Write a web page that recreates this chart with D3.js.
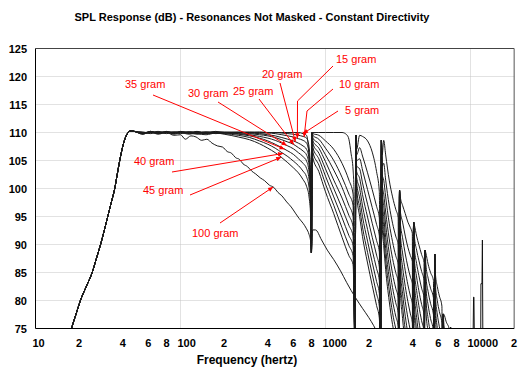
<!DOCTYPE html>
<html><head><meta charset="utf-8">
<script src="https://cdn.jsdelivr.net/npm/d3@7"></script>
<style>
html,body{margin:0;padding:0;background:#fff;}
svg{display:block;}
</style></head><body>
<svg id="chart" width="520" height="378"></svg>
<script>
// ---------------- DATA ----------------
const titleText = "SPL Response (dB) - Resonances Not Masked - Constant Directivity";
const xTitleText = "Frequency (hertz)";
const yTickValues = [75, 80, 85, 90, 95, 100, 105, 110, 115, 120, 125];
const xTickValues = [10, 20, 40, 60, 80, 100, 200, 400, 600, 800, 1000, 2000, 4000, 6000, 8000, 10000, 20000];
const xTickLabels = ["10", "2", "4", "6", "8", "100", "2", "4", "6", "8", "1000", "2", "4", "6", "8", "10000", "2"];
const xGridValues = [100, 1000, 10000];

// shared low-frequency rise (Hz, dB)
const lowEnd = [[16.5,72],[17.7,75],[19,77.5],[20.4,80],[22.4,82.5],[24.6,85],[26.3,87.5],[28.1,90],[29.8,92.5],[31.5,95],[33.3,97.5],[35.2,100],[36.6,102.5],[38.1,105],[39.7,107.2],[41.3,108.8],[43,109.8],[45.5,110.3],[48,110.2]];

const gram5 = [[55,109.9],[62,110.2],[70,110],[80,110.1],[90,110],[100,110.2],[115,109.9],[130,110.1],[150,110],[175,110.2],[200,110],[250,110.1],[300,110],[350,110.1],[400,110],[500,110],[600,110],[650,110],[700,109.8],[740,109.5],[766,106.4],[786,100.3],[800,88.5],
[810,110],[818,110],[900,110],[1000,110],[1140,110],[1300,110],[1400,109.6],[1450,108.8],[1500,106.3],[1550,103.3],[1575,99],[1600,70],
[1620,109.5],[1640,107],[1720,109.5],[1800,109.3],[1950,108.5],[2100,106.5],[2250,103],[2350,99.5],[2400,70],
[2430,108.6],[2460,106],[2520,108.6],[2600,106],[2750,101.5],[2900,98.5],[3050,96.3],[3170,94.8],[3200,70],
[3240,99.7],[3280,98.5],[3400,97],[3550,95.5],[3700,94],[3850,93],[3970,92],[4000,70],
[4050,94],[4100,93.5],[4250,91.5],[4400,90],[4600,88.2],[4780,86.8],[4800,70],
[4860,89],[4920,88.5],[5100,86.5],[5300,85],[5550,83.6],[5600,70],
[5670,88.3],[5740,84.5],[5900,82.5],[6100,80.8],[6350,79],[6400,70],
[6480,77.6],[6560,77.5],[6800,76.2],[7150,74.8],[7200,70],
[7290,75.2],[7380,74],[8000,70]];

const gram10 = [[55,109.8],[62,110.1],[70,109.9],[80,110.2],[90,109.9],[100,110.1],[115,109.8],[130,110.1],[150,109.9],[175,110.1],[200,110],[250,110],[300,110.1],[350,110],[400,110],[450,110],[500,109.9],[550,109.8],[600,109.7],[650,109.5],[700,109.3],[740,109],[770,107.5],[790,102],[800,88.5],
[810,110],[818,109.8],[900,109.5],[1000,108.5],[1140,107],[1300,104.5],[1450,101.5],[1550,99],[1600,70],
[1620,109.5],[1640,106],[1720,107.3],[1800,105.8],[1950,102.8],[2100,99.8],[2250,96.8],[2350,94.8],[2400,70],
[2430,108.6],[2460,104],[2520,104.5],[2600,101.5],[2750,97],[2900,93.8],[3050,91.5],[3170,90],[3200,70],
[3240,99.7],[3280,96],[3400,94],[3550,91.5],[3700,89.5],[3850,88],[3970,87],[4000,70],
[4050,94],[4100,91.5],[4250,89],[4400,87.2],[4600,85.2],[4780,83.6],[4800,70],
[4860,89],[4920,86.5],[5100,84],[5300,82.2],[5550,80.5],[5600,70],
[5670,88.3],[5740,82.5],[5900,80],[6100,78],[6350,76],[6400,70],
[6480,77.6],[6560,75.5],[6800,73.5],[7150,71.5],[7200,70],[7290,75.2],[7380,71],[8000,66]];

const gram15 = [[55,109.7],[62,110.2],[70,109.9],[80,110.1],[90,110],[100,109.9],[115,110],[130,110.2],[150,109.8],[175,110],[200,110.1],[250,110],[300,110],[350,109.9],[400,109.9],[450,109.8],[500,109.6],[550,109.4],[600,109.2],[650,108.9],[700,108.6],[740,108.1],[770,106.5],[790,101],[800,88.5],
[810,110],[818,109.5],[900,108.8],[1000,107.2],[1140,105],[1300,102],[1450,99],[1550,97],[1600,70],
[1620,109.5],[1640,105],[1720,105.3],[1800,103.3],[1950,99.8],[2100,96.6],[2250,93.6],[2350,91.6],[2400,70],
[2430,108.6],[2460,102.5],[2520,101.5],[2600,98.5],[2750,93.8],[2900,90.5],[3050,88],[3170,86.5],[3200,70],
[3240,99.7],[3280,94],[3400,91.2],[3550,88.3],[3700,86],[3850,84.2],[3970,83],[4000,70],
[4050,94],[4100,89.5],[4250,86.6],[4400,84.5],[4600,82.2],[4780,80.5],[4800,70],
[4860,89],[4920,84.5],[5100,81.6],[5300,79.5],[5550,77.5],[5600,70],
[5670,88.3],[5740,80.5],[5900,77.6],[6100,75.3],[6350,73],[6400,70],
[6480,77.6],[6560,73.5],[6800,70.8],[7150,68],[7200,66],[7290,75.2],[7380,68],[8000,62]];

const gram20 = [[55,109.9],[62,110],[70,110.2],[80,109.9],[90,110.1],[100,110],[115,110.1],[130,109.9],[150,110.1],[175,109.9],[200,110],[250,110],[300,109.9],[350,109.8],[400,109.6],[450,109.4],[500,109.1],[550,108.8],[600,108.5],[650,108.1],[700,107.6],[740,107],[770,105.3],[790,100],[800,88.5],
[810,110],[818,109],[900,108],[1000,106],[1140,103.3],[1300,100.2],[1450,97],[1550,95],[1600,70],
[1620,109.5],[1640,104],[1720,103.5],[1800,101],[1950,97.2],[2100,93.8],[2250,90.7],[2350,88.7],[2400,70],
[2430,108.6],[2460,101],[2520,99],[2600,95.8],[2750,91],[2900,87.5],[3050,85],[3170,83.3],[3200,70],
[3240,99.7],[3280,92],[3400,88.5],[3550,85.3],[3700,82.8],[3850,80.8],[3970,79.4],[4000,70],
[4050,94],[4100,87.5],[4250,84.2],[4400,81.8],[4600,79.3],[4780,77.4],[4800,70],
[4860,89],[4920,82.5],[5100,79.2],[5300,76.8],[5550,74.5],[5600,70],
[5670,88.3],[5740,78.5],[5900,75.2],[6100,72.6],[6350,70],[6400,66],[6480,77.6],[6560,71.5],[6800,68],[7200,64]];

const gram25 = [[55,110],[62,109.8],[70,110.1],[80,110],[90,109.8],[100,110.1],[115,110],[130,109.8],[150,110],[175,110.1],[200,109.9],[250,109.9],[300,109.8],[350,109.6],[400,109.4],[450,109.1],[500,108.7],[550,108.3],[600,107.9],[650,107.3],[700,106.7],[740,106],[770,104.2],[790,99],[800,88.5],
[810,110],[818,108.5],[900,107.2],[1000,104.8],[1140,101.5],[1300,98.3],[1450,95.2],[1550,93.2],[1600,70],
[1620,109.5],[1640,103],[1720,101.8],[1800,98.9],[1950,94.9],[2100,91.3],[2250,88.1],[2350,86],[2400,70],
[2430,108.6],[2460,99.5],[2520,97],[2600,93.5],[2750,88.5],[2900,84.8],[3050,82.2],[3170,80.5],[3200,70],
[3240,99.7],[3280,90],[3400,86],[3550,82.5],[3700,79.8],[3850,77.6],[3970,76],[4000,70],
[4050,94],[4100,85.5],[4250,81.8],[4400,79.1],[4600,76.4],[4780,74.4],[4800,70],
[4860,89],[4920,80.5],[5100,76.8],[5300,74.1],[5550,71.5],[5600,68],
[5670,88.3],[5740,76.5],[5900,72.8],[6100,70],[6400,66]];

const gram30 = [[55,109.8],[62,110.1],[70,109.8],[80,110.1],[90,110],[100,109.8],[115,110.1],[130,110],[150,109.8],[175,110],[200,110],[250,109.8],[300,109.6],[350,109.3],[400,109],[450,108.6],[500,108.1],[550,107.6],[600,107.1],[650,106.4],[700,105.7],[740,104.9],[770,103],[790,98],[800,88.5],
[810,110],[818,108],[900,106.3],[1000,103.5],[1140,100],[1300,96.5],[1450,93.4],[1550,91.5],[1600,70],
[1620,109.5],[1640,102],[1720,100],[1800,96.9],[1950,92.7],[2100,89],[2250,85.7],[2350,83.6],[2400,70],
[2430,108.6],[2460,98],[2520,95],[2600,91.3],[2750,86.2],[2900,82.3],[3050,79.6],[3170,77.8],[3200,70],
[3240,99.7],[3280,88],[3400,83.6],[3550,79.8],[3700,76.9],[3850,74.6],[3970,73],[4000,70],
[4050,94],[4100,83.5],[4250,79.4],[4400,76.4],[4600,73.5],[4780,71.5],[4800,68],
[4860,89],[4920,78.5],[5100,74.4],[5300,71.4],[5550,68]];

const gram35 = [[55,110.1],[62,109.9],[70,110],[80,109.8],[90,110.1],[100,110],[115,109.7],[130,110],[150,110.1],[175,109.8],[200,109.9],[250,109.7],[300,109.4],[350,109],[400,108.5],[450,107.9],[500,107.3],[550,106.7],[600,106.1],[650,105.3],[700,104.5],[740,103.6],[770,101.7],[790,97],[800,88.5],
[810,110],[818,107.3],[900,105.3],[1000,102.2],[1140,98.5],[1300,94.8],[1450,91.6],[1550,89.8],[1600,70],
[1620,109.5],[1640,101],[1720,98.3],[1800,95],[1950,90.6],[2100,86.8],[2250,83.4],[2350,81.3],[2400,70],
[2430,108.6],[2460,96.5],[2520,93.2],[2600,89.3],[2750,84],[2900,80],[3050,77.2],[3170,75.4],[3200,70],
[3240,99.7],[3280,86],[3400,81.3],[3550,77.2],[3700,74.1],[3850,71.7],[3970,70],[4000,67],
[4050,94],[4100,81.5],[4250,77],[4400,73.8],[4600,70.6],[4800,67]];

const gram40 = [[55,109.9],[62,110.1],[70,109.7],[80,110],[90,109.9],[100,110.1],[115,109.9],[130,109.7],[150,109.9],[175,109.9],[200,109.8],[250,109.5],[300,109.1],[350,108.5],[400,107.9],[450,107.2],[500,106.4],[550,105.7],[600,104.9],[650,104.1],[700,103.1],[740,102.1],[770,100.2],[790,96],[800,88.5],
[810,110],[818,106.5],[900,104.2],[1000,100.8],[1140,97],[1300,93],[1450,89.8],[1550,88],[1600,70],
[1620,109.5],[1640,100],[1720,96.6],[1800,93.1],[1950,88.6],[2100,84.7],[2250,81.2],[2350,79],[2400,70],
[2430,108.6],[2460,95],[2520,91.5],[2600,87.4],[2750,81.9],[2900,77.8],[3050,75],[3170,73.2],[3200,70],
[3240,99.7],[3280,84],[3400,79],[3550,74.7],[3700,71.4],[4000,67],
[4050,94],[4100,79.5],[4250,74.7],[4400,71.2],[4800,66]];

const gram45 = [[55,109.8],[62,110],[70,109.9],[80,110.1],[90,109.7],[100,110],[115,110.1],[130,109.8],[150,109.6],[175,109.9],[200,109.7],[250,109.2],[300,108.7],[350,108],[400,107.2],[450,106.4],[500,105.5],[550,104.6],[600,103.7],[650,102.8],[700,101.6],[740,100.4],[770,98.5],[790,95],[800,88.5],
[810,110],[818,105.5],[900,103],[1000,99.4],[1140,95.5],[1300,91.3],[1450,88],[1550,86.4],[1600,70],
[1620,109.5],[1640,99],[1720,95],[1800,91.4],[1950,86.7],[2100,82.7],[2250,79.1],[2350,76.9],[2400,70],
[2430,108.6],[2460,93.5],[2520,89.8],[2600,85.5],[2750,79.9],[2900,75.7],[3050,72.9],[3170,71],[3200,68],
[3240,99.7],[3280,82],[3400,76.8],[3550,72.3],[3700,69],[4000,65],
[4050,94],[4100,77.5],[4250,72.4],[4400,69],[4800,64]];

const gram100 = [[55,109.7],[62,110.2],[70,109.8],[80,110],[90,109.5],[100,109.6],[108,108.8],[118,109.4],[128,109.2],[140,108.6],[152,108.8],[165,108.1],[180,107.6],[195,107.4],[210,106.6],[225,106.3],[240,105.5],[255,105.2],[270,104.4],[290,103.9],[310,103.1],[330,102.6],[355,101.9],[380,101.4],[410,100.6],[440,100.2],[470,99.3],[500,98.7],[540,97.6],[580,96.7],[620,95.6],[660,94.6],[700,93.8],[740,92.8],[770,91.8],[790,90.5],[800,88.5],
[815,92.6],[853,92.6],[940,90.8],[1029,89],[1140,87.3],[1269,85.3],[1400,83.2],[1610,80.5],[1800,78.6],[1983,77],[2150,75.5],[2300,74]];

// narrow high-frequency resonance spikes (Hz, dB)
const spike10k = [[10380,70],[10500,80.6],[10560,80.6],[10660,70]];
const spike12k = [[11750,70],[11800,83],[12000,83],[12080,90.8],[12180,70]];

// annotation labels and the frequency each arrow points at
const labelNames = ["5 gram","10 gram","15 gram","20 gram","25 gram","30 gram","35 gram","40 gram","45 gram","100 gram"];
const arrowTargetHz = [700, 712, 640, 620, 605, 540, 522, 510, 495, 435];

// ---------------- LAYOUT ----------------
const series = [
  {name:"5 gram", data: lowEnd.concat(gram5)},
  {name:"10 gram", data: lowEnd.concat(gram10)},
  {name:"15 gram", data: lowEnd.concat(gram15)},
  {name:"20 gram", data: lowEnd.concat(gram20)},
  {name:"25 gram", data: lowEnd.concat(gram25)},
  {name:"30 gram", data: lowEnd.concat(gram30)},
  {name:"35 gram", data: lowEnd.concat(gram35)},
  {name:"40 gram", data: lowEnd.concat(gram40)},
  {name:"45 gram", data: lowEnd.concat(gram45)},
  {name:"100 gram", data: lowEnd.concat(gram100)}
];
const labelLayout = {
  "5 gram":  {tx:345, ty:114, pts:[[338,111]]},
  "10 gram": {tx:339, ty:88,  pts:[[333,89],[307,111]]},
  "15 gram": {tx:336, ty:63,  pts:[[333,66],[297.5,101]]},
  "20 gram": {tx:262, ty:78,  pts:[[280,83]]},
  "25 gram": {tx:233, ty:95,  pts:[[259,99]]},
  "30 gram": {tx:188, ty:97,  pts:[[218,102]]},
  "35 gram": {tx:125, ty:88,  pts:[[153,95]]},
  "40 gram": {tx:134, ty:165, pts:[[172,172]]},
  "45 gram": {tx:143, ty:194, pts:[[190,195]]},
  "100 gram":{tx:192, ty:237, pts:[[220,223]]}
};

const svg = d3.select("#chart");
const font = "'Liberation Sans', Arial, Helvetica, sans-serif";

const x = d3.scaleLog().domain([10, 20000]).range([35.5, 514.15]);
const y = d3.scaleLinear().domain([75, 125]).range([328.5, 48.5]);

const defs = svg.append("defs");
defs.append("clipPath").attr("id","plotclip").append("rect")
  .attr("x", x(10)).attr("y", y(125)).attr("width", x(20000)-x(10)).attr("height", y(75)-y(125));
defs.append("marker").attr("id","arrow")
  .attr("viewBox","0 0 10 10").attr("refX",10).attr("refY",5)
  .attr("markerUnits","userSpaceOnUse").attr("markerWidth",6).attr("markerHeight",5)
  .attr("orient","auto")
  .append("path").attr("d","M0,0.5 L10,5 L0,9.5 Z").attr("fill","#ff0000");

// grid
const grid = svg.append("g");
grid.selectAll("line.h").data(yTickValues.filter(v => v > 75 && v < 125)).enter().append("line")
  .attr("x1", x(10)).attr("x2", x(20000)).attr("y1", d => y(d)).attr("y2", d => y(d))
  .attr("stroke","#c4c4c4").attr("stroke-width",1).attr("stroke-dasharray","1,1");
grid.selectAll("line.v").data(xGridValues).enter().append("line")
  .attr("x1", d => x(d)).attr("x2", d => x(d)).attr("y1", y(125)).attr("y2", y(75))
  .attr("stroke","#c4c4c4").attr("stroke-width",1).attr("stroke-dasharray","1,1");

// frame
svg.append("line").attr("x1", x(10)).attr("x2", x(20000)).attr("y1", y(125)).attr("y2", y(125)).attr("stroke","#444");
svg.append("line").attr("x1", x(20000)).attr("x2", x(20000)).attr("y1", y(125)).attr("y2", y(75)).attr("stroke","#555");

// curves
const line = d3.line().x(d => x(d[0])).y(d => y(d[1])).curve(d3.curveMonotoneX);
const plot = svg.append("g").attr("clip-path","url(#plotclip)");
plot.selectAll("path.curve").data(series).enter().append("path")
  .attr("class","curve")
  .attr("d", d => line(d.data))
  .attr("fill","none").attr("stroke","#1c1c1c").attr("stroke-width",1).attr("stroke-linejoin","round");
plot.selectAll("path.spk").data([spike10k, spike12k]).enter().append("path")
  .attr("d", d => d3.line().x(p => x(p[0])).y(p => y(p[1]))(d))
  .attr("fill","none").attr("stroke","#111").attr("stroke-width",1);

// axes lines
svg.append("line").attr("x1", x(10)).attr("x2", x(10)).attr("y1", y(125)).attr("y2", y(75)).attr("stroke","#000");
svg.append("line").attr("x1", x(10)).attr("x2", x(20000)).attr("y1", y(75)).attr("y2", y(75)).attr("stroke","#000");

// tick labels
svg.append("g").selectAll("text").data(yTickValues).enter().append("text")
  .attr("x", 27).attr("y", d => y(d) + 4)
  .attr("text-anchor","end").attr("font-family",font).attr("font-weight","bold").attr("font-size","11px")
  .attr("fill","#000").text(d => d);
svg.append("g").selectAll("text").data(xTickValues).enter().append("text")
  .attr("x", (d,i) => xTickLabels[i].length > 1 ? x(d) - 3 : x(d))
  .attr("y", 347)
  .attr("text-anchor", (d,i) => xTickLabels[i].length > 1 ? "start" : "middle")
  .attr("font-family",font).attr("font-weight","bold").attr("font-size","11px")
  .attr("fill","#000").text((d,i) => xTickLabels[i]);

// titles
svg.append("text").attr("x", 252).attr("y", 21).attr("text-anchor","middle")
  .attr("font-family",font).attr("font-weight","bold").attr("font-size","11px").text(titleText);
svg.append("text").attr("x", 247).attr("y", 364).attr("text-anchor","middle")
  .attr("font-family",font).attr("font-weight","bold").attr("font-size","12px").text(xTitleText);

// annotations
function valueAt(data, f) {
  const i = d3.bisector(d => d[0]).left(data, f);
  const a = data[i-1], b = data[i];
  const t = (Math.log(f) - Math.log(a[0])) / (Math.log(b[0]) - Math.log(a[0]));
  return a[1] + t * (b[1] - a[1]);
}
const ann = svg.append("g");
labelNames.forEach((name, i) => {
  const s = series.find(d => d.name === name);
  const f = arrowTargetHz[i];
  const L = labelLayout[name];
  const pts = L.pts.concat([[x(f), y(valueAt(s.data, f))]]);
  ann.append("path").attr("d", d3.line()(pts))
    .attr("fill","none").attr("stroke","#ff0000").attr("stroke-width",1)
    .attr("marker-end","url(#arrow)");
  ann.append("text").attr("x", L.tx).attr("y", L.ty)
    .attr("font-family",font).attr("font-size","11px").attr("fill","#ff0000").text(name);
});
</script>
</body></html>
